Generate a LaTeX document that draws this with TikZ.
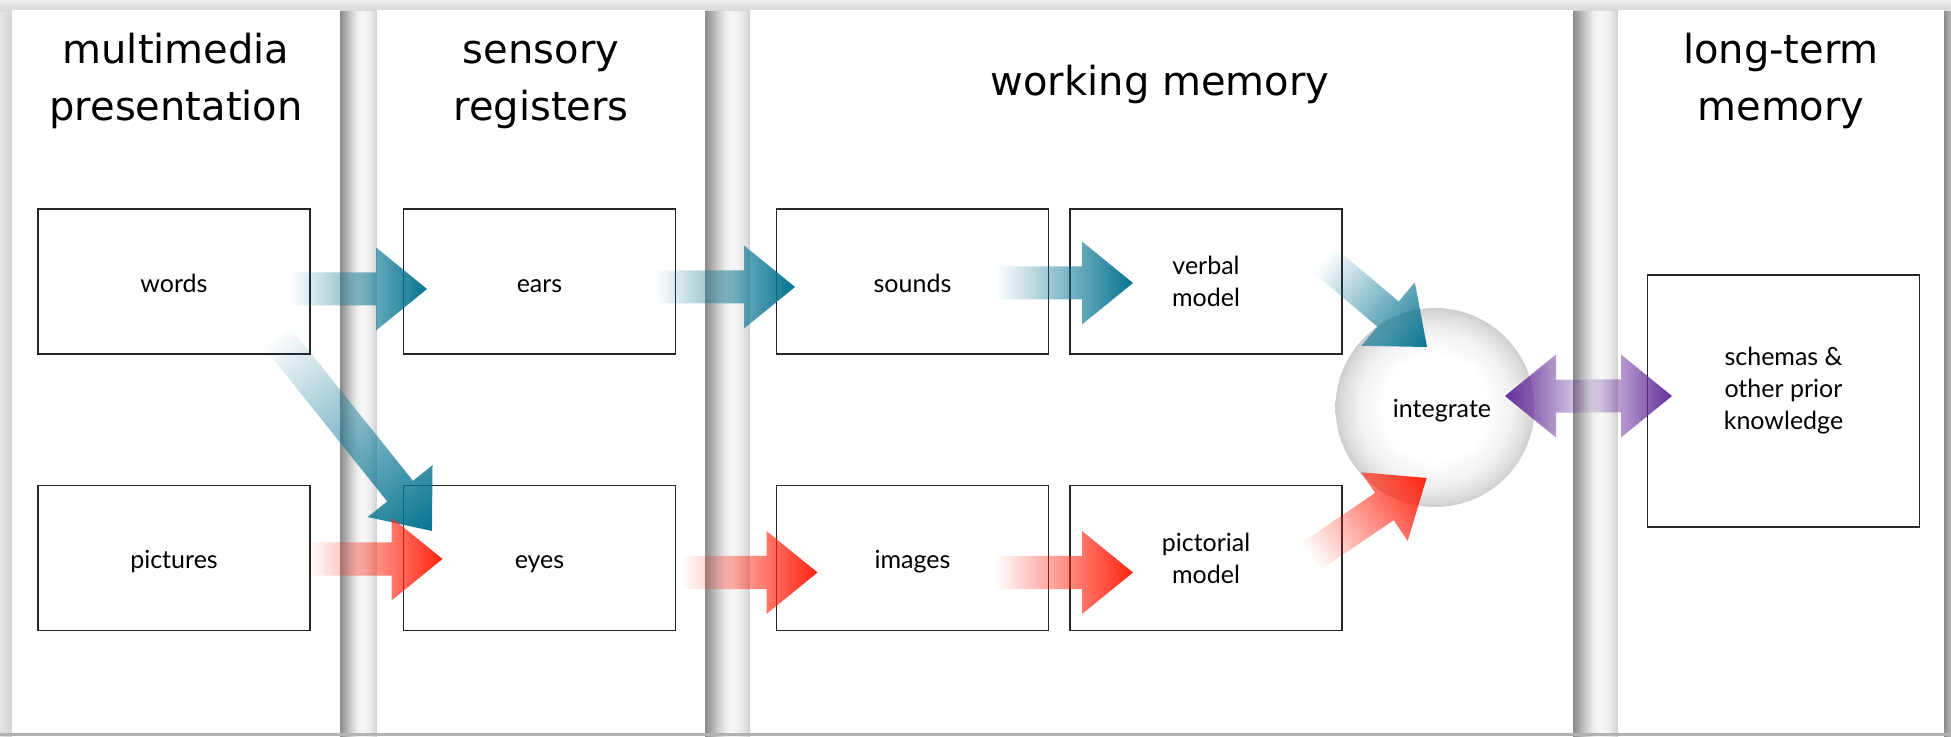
\documentclass[tikz,border=0pt]{standalone}
\usepackage{fontspec}
\setmainfont{Lato}
\newfontfamily\headfont{DejaVu Sans}
\usetikzlibrary{fadings}

% colours
\definecolor{arrteal}{RGB}{5,115,145}
\definecolor{arrred}{RGB}{255,35,15}
\definecolor{arrpurple}{RGB}{100,45,155}
\definecolor{bggray}{gray}{0.95}
\definecolor{g0}{gray}{0.55}
\definecolor{g1}{gray}{0.63}
\definecolor{g2}{gray}{0.77}
\definecolor{g3}{gray}{0.93}
\definecolor{g4}{gray}{0.97}
\definecolor{g5}{gray}{0.93}
\definecolor{g6}{gray}{0.86}
\definecolor{g7}{gray}{0.81}
\definecolor{gedge}{gray}{0.72}
\definecolor{gl0}{gray}{0.90}
\definecolor{gl1}{gray}{0.83}
\definecolor{gt0}{gray}{0.93}
\definecolor{gt1}{gray}{0.85}
\definecolor{gbot}{gray}{0.70}

% shadow between two panels: dark on the left, light in the middle
\pgfdeclarehorizontalshading{gapshade}{100bp}{%
  color(0bp)=(g0); color(25bp)=(g0); color(30bp)=(g1); color(37.5bp)=(g2);
  color(47.5bp)=(g3); color(55bp)=(g4); color(65bp)=(g5); color(71.5bp)=(g6);
  color(75bp)=(g7); color(100bp)=(g7)}

% the grey ball
\pgfdeclareradialshading{ballshade}{\pgfpoint{0bp}{0bp}}{%
  color(0bp)=(white); color(13bp)=(white); color(19bp)=(gray!10);
  color(23bp)=(gray!26); color(25bp)=(gray!38); color(50bp)=(gray!38)}

% arrows fade in from the tail to the tip
\tikzfading[name=arrowfade, left color=transparent!100, right color=transparent!0]
\tikzfading[name=halffade, left color=transparent!85, right color=transparent!0]

% block arrow: #1 tail, #2 tip, #3 colour, #4 fading
\newcommand\blockarrow[4]{%
  \path (#1); \pgfgetlastxy{\baTx}{\baTy}%
  \path (#2); \pgfgetlastxy{\baHx}{\baHy}%
  \pgfmathsetmacro\baAng{atan2((\baHy)-(\baTy),(\baHx)-(\baTx))}%
  \pgfmathsetmacro\baLen{veclen((\baHx)-(\baTx),(\baHy)-(\baTy))}%
  \begin{scope}[transform canvas={shift={(#1)},rotate=\baAng}]
    \fill[#3, path fading=#4]
      (0pt,-16.5pt) -- (\baLen pt-51pt,-16.5pt) -- (\baLen pt-51pt,-41.5pt)
      -- (\baLen pt,0pt) -- (\baLen pt-51pt,41.5pt) -- (\baLen pt-51pt,16.5pt)
      -- (0pt,16.5pt) -- cycle;
  \end{scope}}

\begin{document}
\begin{tikzpicture}[x=1pt,y=-1pt,
  stagebox/.style={draw=black!85,line width=1.2pt,fill=white,
    minimum width=272pt,minimum height=145pt,inner sep=0pt,align=center,
    font=\fontsize{25}{32}\selectfont},
  oneline/.style={text height=25pt,text depth=4pt},
  boxtext/.style={font=\fontsize{25}{32}\selectfont,align=center,inner sep=0pt},
  heading/.style={font=\headfont\fontsize{40}{52}\selectfont,anchor=base,inner sep=0pt}]

\useasboundingbox (0,0) rectangle (1951,736);

% background and shadows round the panels
\fill[bggray] (0,0) rectangle (1951,736);
\shade[shading=gapshade] (340,0) rectangle (377,736);
\shade[shading=gapshade] (705,0) rectangle (750,736);
\shade[shading=gapshade] (1573,0) rectangle (1618,736);
\shade[left color=g0, right color=gedge] (1944,0) rectangle (1951,736);
\shade[left color=gl0, right color=gl1] (0,0) rectangle (12,736);
\shade[top color=gt0, bottom color=gt1] (0,0) rectangle (1951,10);
\fill[gbot] (0,733) rectangle (1951,736);

% panels
\fill[white] (12,10) rectangle (340,733);
\fill[white] (377,10) rectangle (705,733);
\fill[white] (750,10) rectangle (1573,733);
\fill[white] (1618,10) rectangle (1944,733);

% headings
\node[heading] (h1a) at (176,63) {multimedia};
\node[heading] (h1b) at (176,120) {presentation};
\node[heading] (h2a) at (541,63) {sensory};
\node[heading] (h2b) at (541,120) {registers};
\node[heading] (h3) at (1160,95) {working memory};
\node[heading] (h4a) at (1781,63) {long-term};
\node[heading] (h4b) at (1781,120) {memory};

% stages
\node[stagebox, oneline] (words) at (174,281.5) {words};
\node[stagebox, oneline] (pictures) at (174,558) {pictures};
\node[stagebox, oneline] (ears) at (539.5,281.5) {ears};
\node[stagebox, oneline] (eyes) at (539.5,558) {eyes};
\node[stagebox, oneline] (sounds) at (912.5,281.5) {sounds};
\node[stagebox, oneline] (images) at (912.5,558) {images};
\node[stagebox] (verbal) at (1206,281.5) {verbal\\model};
\node[stagebox] (pictorial) at (1206,558) {pictorial\\model};
\node[stagebox, minimum height=252pt] (schemas) at (1783.5,401) {};
\node[boxtext] (schemasText) at (1783.5,391) {schemas \&\\other prior\\knowledge};

% integration ball
\node[circle, minimum size=199pt, inner sep=0pt, shade, shading=ballshade] (ball) at (1435,407.5) {};
\node[boxtext, oneline] (ballText) at (1442,407) {integrate};

% arrow ends
\coordinate (a1s) at (290,289);     \coordinate (a1e) at (427,289);
\coordinate (a2s) at (656,287);     \coordinate (a2e) at (795,287);
\coordinate (a3s) at (996,283);     \coordinate (a3e) at (1133,283);
\coordinate (a4s) at (276,336);     \coordinate (a4e) at (432,531);
\coordinate (a5s) at (1324,260);    \coordinate (a5e) at (1427,347);
\coordinate (a6s) at (309,559);     \coordinate (a6e) at (442.5,559);
\coordinate (a7s) at (682.5,572.5); \coordinate (a7e) at (817.5,572.5);
\coordinate (a8s) at (995,572.5);   \coordinate (a8e) at (1133,572.5);
\coordinate (a9s) at (1310.8,556.5);\coordinate (a9e) at (1426.6,478);
\coordinate (pmid) at (1588.5,396);
\coordinate (pleft) at (1505,396);  \coordinate (pright) at (1672,396);

% verbal channel
\blockarrow{a1s}{a1e}{arrteal}{arrowfade}
\blockarrow{a2s}{a2e}{arrteal}{arrowfade}
\blockarrow{a3s}{a3e}{arrteal}{arrowfade}
\blockarrow{a4s}{a4e}{arrteal}{arrowfade}
\blockarrow{a5s}{a5e}{arrteal}{arrowfade}
% pictorial channel
\blockarrow{a6s}{a6e}{arrred}{arrowfade}
\blockarrow{a7s}{a7e}{arrred}{arrowfade}
\blockarrow{a8s}{a8e}{arrred}{arrowfade}
\blockarrow{a9s}{a9e}{arrred}{arrowfade}
% exchange with long-term memory
\blockarrow{pmid}{pleft}{arrpurple}{halffade}
\blockarrow{pmid}{pright}{arrpurple}{halffade}
\end{tikzpicture}
\end{document}
